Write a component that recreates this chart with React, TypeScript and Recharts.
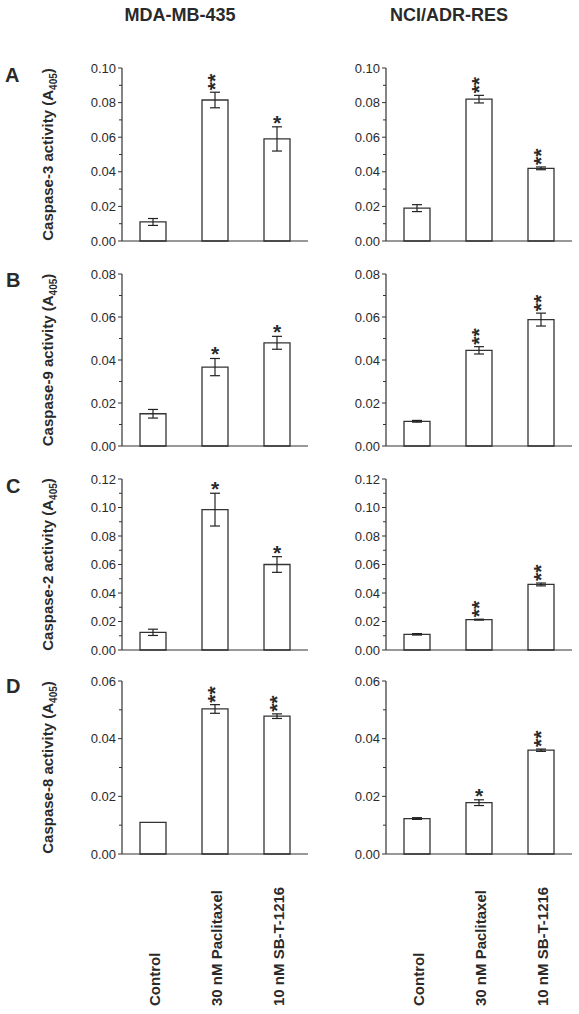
import React from "react";
import { BarChart, Bar, XAxis, YAxis, ErrorBar, LabelList } from "recharts";

const FONT = "'Liberation Sans', Arial, sans-serif";
const INK = "#2a2a2a";

const categories = ["Control", "30 nM Paclitaxel", "10 nM SB-T-1216"];

// A: caspase-3
const mdaCasp3 = [0.011, 0.0815, 0.059];
const mdaCasp3Err = [0.002, 0.0045, 0.007];
const mdaCasp3Stars = ["", "**", "*"];
const nciCasp3 = [0.019, 0.082, 0.042];
const nciCasp3Err = [0.002, 0.0022, 0.0008];
const nciCasp3Stars = ["", "**", "**"];

// B: caspase-9
const mdaCasp9 = [0.015, 0.0367, 0.048];
const mdaCasp9Err = [0.002, 0.004, 0.003];
const mdaCasp9Stars = ["", "*", "*"];
const nciCasp9 = [0.0115, 0.0445, 0.0588];
const nciCasp9Err = [0.0004, 0.0017, 0.003];
const nciCasp9Stars = ["", "**", "**"];

// C: caspase-2
const mdaCasp2 = [0.0124, 0.0985, 0.06];
const mdaCasp2Err = [0.0022, 0.0115, 0.0055];
const mdaCasp2Stars = ["", "*", "*"];
const nciCasp2 = [0.011, 0.0213, 0.046];
const nciCasp2Err = [0.0005, 0.0003, 0.001];
const nciCasp2Stars = ["", "**", "**"];

// D: caspase-8
const mdaCasp8 = [0.011, 0.0503, 0.0478];
const mdaCasp8Err = [0, 0.0015, 0.0008];
const mdaCasp8Stars = ["", "**", "**"];
const nciCasp8 = [0.0123, 0.0178, 0.036];
const nciCasp8Err = [0.0003, 0.001, 0.0004];
const nciCasp8Stars = ["", "*", "**"];

const ticksA = [0, 0.01, 0.02, 0.03, 0.04, 0.05, 0.06, 0.07, 0.08, 0.09, 0.1];
const ticksB = [0, 0.01, 0.02, 0.03, 0.04, 0.05, 0.06, 0.07, 0.08];
const ticksC = [0, 0.01, 0.02, 0.03, 0.04, 0.05, 0.06, 0.07, 0.08, 0.09, 0.1, 0.11, 0.12];
const ticksD = [0, 0.01, 0.02, 0.03, 0.04, 0.05, 0.06];

type Row = { name: string; value: number; err: number; stars: string };

function makeRows(vals: number[], errs: number[], stars: string[]): Row[] {
  return categories.map((name, i) => ({ name, value: vals[i], err: errs[i], stars: stars[i] }));
}

function YTick(props: any) {
  const { x, y, payload } = props;
  const major = Math.round(payload.value * 100) % 2 === 0;
  return (
    <g>
      <line x1={x - (major ? 4 : 3)} x2={x} y1={y} y2={y} stroke="#333" strokeWidth={1} />
      {major && (
        <text x={x - 6} y={y} dy={4.5} textAnchor="end" fontSize={13} fontFamily={FONT} fill={INK}>
          {payload.value.toFixed(2)}
        </text>
      )}
    </g>
  );
}

function CatTick(props: any) {
  const { x, y, payload } = props;
  const tx = x + 6.5;
  const ty = y + 152;
  return (
    <text
      x={tx}
      y={ty}
      transform={`rotate(-90 ${tx} ${ty})`}
      textAnchor="start"
      fontSize={15}
      fontWeight="bold"
      fontFamily={FONT}
      fill={INK}
    >
      {payload.value}
    </text>
  );
}

type PanelProps = {
  rows: Row[];
  ticks: number[];
  left: number;
  plotTop: number;
  plotH: number;
  yLabel?: string;
  showCats?: boolean;
};

function Panel({ rows, ticks, left, plotTop, plotH, yLabel, showCats }: PanelProps) {
  const xh = showCats ? 160 : 12;
  const max = ticks[ticks.length - 1];

  const renderStars = (p: any) => {
    const row = rows[p.index];
    if (!row || !row.stars) return null;
    const perUnit = p.height / row.value;
    const errTop = p.y - row.err * perUnit;
    const cx = p.x + p.width / 2;
    if (row.stars.length === 1) {
      return (
        <text x={cx} y={errTop + 3} textAnchor="middle" fontSize={21} fontWeight="bold" fontFamily={FONT} fill={INK}>
          {row.stars}
        </text>
      );
    }
    // stacked stars: one rotated run of asterisks
    const tx = cx + 7;
    const ty = errTop - 2;
    return (
      <text
        x={tx}
        y={ty}
        transform={`rotate(-90 ${tx} ${ty})`}
        textAnchor="start"
        fontSize={21}
        fontWeight="bold"
        fontFamily={FONT}
        fill={INK}
      >
        {row.stars}
      </text>
    );
  };

  const renderYLabel = (p: any) => {
    const vb = p.viewBox || {};
    const x = 53;
    const y = (vb.y ?? 10) + (vb.height ?? plotH) / 2;
    return (
      <text
        x={x}
        y={y}
        transform={`rotate(-90 ${x} ${y})`}
        textAnchor="middle"
        fontSize={15}
        fontWeight="bold"
        fontFamily={FONT}
        fill={INK}
      >
        {yLabel}
        <tspan fontSize={10} dy={4}>405</tspan>
        <tspan dy={-4}>)</tspan>
      </text>
    );
  };

  return (
    <div style={{ position: "absolute", left, top: plotTop - 10 }}>
      <BarChart
        width={310}
        height={10 + plotH + xh}
        data={rows}
        margin={{ top: 10, right: 2, left: 0, bottom: 0 }}
      >
        <XAxis
          dataKey="name"
          height={xh}
          interval={0}
          tickSize={0}
          tickMargin={0}
          tickLine={false}
          tick={showCats ? CatTick : false}
          axisLine={{ stroke: "#333", strokeWidth: 1.2 }}
        />
        <YAxis
          width={122}
          type="number"
          domain={[0, max]}
          ticks={ticks}
          interval={0}
          tickSize={0}
          tickMargin={0}
          tickLine={false}
          tick={YTick}
          axisLine={{ stroke: "#333", strokeWidth: 1.2 }}
          label={yLabel ? { content: renderYLabel } : undefined}
        />
        <Bar dataKey="value" fill="#fff" stroke="#333" strokeWidth={1.3} barSize={26} isAnimationActive={false}>
          <ErrorBar dataKey="err" width={5} stroke="#222" strokeWidth={1.2} />
          <LabelList dataKey="stars" content={renderStars} />
        </Bar>
      </BarChart>
    </div>
  );
}

const LEFT_X = 0;
const RIGHT_X = 264;

export default function App() {
  return (
    <div
      style={{
        position: "absolute",
        left: 0,
        top: 0,
        width: 579,
        height: 1014,
        background: "#fff",
        fontFamily: FONT,
        overflow: "hidden",
      }}
    >
      <Panel rows={makeRows(mdaCasp3, mdaCasp3Err, mdaCasp3Stars)} ticks={ticksA} left={LEFT_X} plotTop={68} plotH={173} yLabel="Caspase-3 activity (A" />
      <Panel rows={makeRows(nciCasp3, nciCasp3Err, nciCasp3Stars)} ticks={ticksA} left={RIGHT_X} plotTop={68} plotH={173} />
      <Panel rows={makeRows(mdaCasp9, mdaCasp9Err, mdaCasp9Stars)} ticks={ticksB} left={LEFT_X} plotTop={274} plotH={172} yLabel="Caspase-9 activity (A" />
      <Panel rows={makeRows(nciCasp9, nciCasp9Err, nciCasp9Stars)} ticks={ticksB} left={RIGHT_X} plotTop={274} plotH={172} />
      <Panel rows={makeRows(mdaCasp2, mdaCasp2Err, mdaCasp2Stars)} ticks={ticksC} left={LEFT_X} plotTop={479} plotH={171} yLabel="Caspase-2 activity (A" />
      <Panel rows={makeRows(nciCasp2, nciCasp2Err, nciCasp2Stars)} ticks={ticksC} left={RIGHT_X} plotTop={479} plotH={171} />
      <Panel rows={makeRows(mdaCasp8, mdaCasp8Err, mdaCasp8Stars)} ticks={ticksD} left={LEFT_X} plotTop={681} plotH={173} yLabel="Caspase-8 activity (A" showCats />
      <Panel rows={makeRows(nciCasp8, nciCasp8Err, nciCasp8Stars)} ticks={ticksD} left={RIGHT_X} plotTop={681} plotH={173} showCats />

      <svg width={579} height={1014} style={{ position: "absolute", left: 0, top: 0, pointerEvents: "none" }}>
        <g fontFamily={FONT} fontWeight="bold" fill={INK}>
          <text x={180} y={21} textAnchor="middle" fontSize={18}>MDA-MB-435</text>
          <text x={449} y={21} textAnchor="middle" fontSize={18}>NCI/ADR-RES</text>
          <text x={5} y={82} fontSize={20}>A</text>
          <text x={6} y={287} fontSize={20}>B</text>
          <text x={6} y={493} fontSize={20}>C</text>
          <text x={6} y={693} fontSize={20}>D</text>
        </g>
      </svg>
    </div>
  );
}
